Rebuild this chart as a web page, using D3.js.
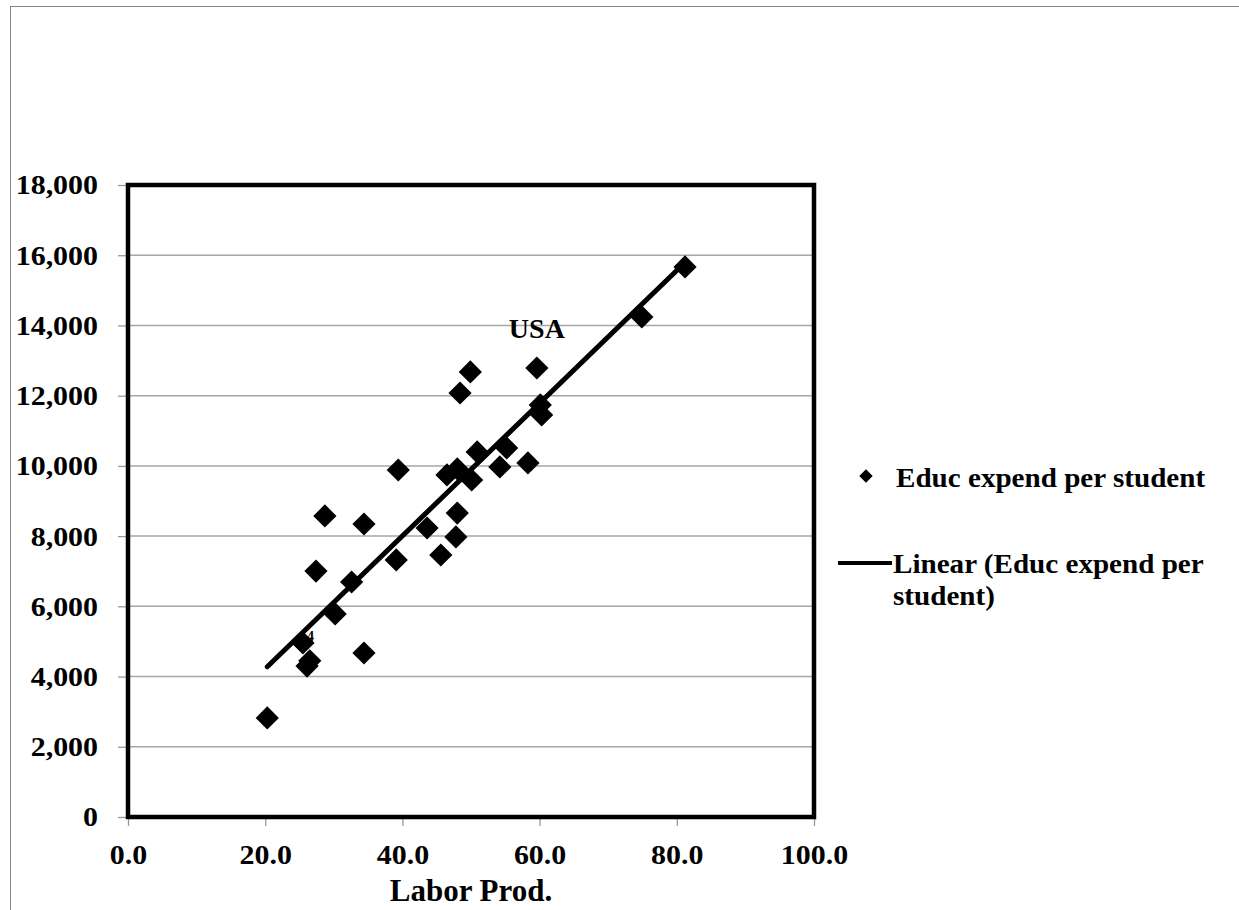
<!DOCTYPE html>
<html>
<head>
<meta charset="utf-8">
<script src="https://cdnjs.cloudflare.com/ajax/libs/d3/7.8.5/d3.min.js"></script>
<style>
  body { margin: 0; background: #fff; }
  text { font-family: "Liberation Serif", "Times New Roman", serif; font-weight: bold; fill: #000; }
</style>
</head>
<body>
<div id="container"></div>
<script>
// Labor productivity vs education spending per student
const laborProd = [20.3, 25.5, 26.1, 26.5, 34.4, 30.2, 32.6, 27.4, 28.7, 34.4,
                   39.4, 39.1, 43.6, 46.5, 48.0, 50.1, 50.9, 55.2, 54.2, 58.3,
                   48.0, 47.8, 45.6, 60.3, 60.1, 49.9, 48.4, 59.6, 81.2, 74.9];
const educExpend = [2820, 4956, 4300, 4450, 4671, 5782, 6693, 7006, 8573, 8345,
                    9883, 7320, 8231, 9741, 9912, 9598, 10396, 10510, 9969, 10083,
                    8658, 7975, 7462, 11450, 11735, 12675, 12076, 12788, 15665, 14241];
const xTicks = [0, 20, 40, 60, 80, 100];
const yTicks = [0, 2000, 4000, 6000, 8000, 10000, 12000, 14000, 16000, 18000];
const seriesName = "Educ expend per student";
const trendName = ["Linear (Educ expend per", "student)"];
const usaPoint = [59.6, 12788];
const strayLabel = [25.5, 4956, "4"];

const w = 1239, h = 910;
const padL = 128, padR = 814, padT = 185, padB = 817;

const svg = d3.select("#container").append("svg")
  .attr("width", w).attr("height", h);

// chart area border
svg.append("rect")
  .attr("x", 10.5).attr("y", 6.5).attr("width", 1240).attr("height", 920)
  .attr("fill", "none").attr("stroke", "#888").attr("stroke-width", 1);

const x = d3.scaleLinear().domain([0, 100]).range([padL, padR]);
const y = d3.scaleLinear().domain([0, 18000]).range([padB, padT]);

// gridlines
svg.append("g").selectAll("line").data(yTicks.filter(t => t > 0 && t < 18000)).enter().append("line")
  .attr("x1", padL).attr("x2", padR)
  .attr("y1", d => y(d)).attr("y2", d => y(d))
  .attr("stroke", "#a6a6a6").attr("stroke-width", 1.5);

const yAxis = d3.axisLeft(y).tickValues(yTicks).tickSize(10).tickPadding(18)
  .tickFormat(d3.format(","));
const xAxis = d3.axisBottom(x).tickValues(xTicks).tickSize(9).tickPadding(18)
  .tickFormat(d3.format(".1f"));

const yg = svg.append("g").attr("transform", "translate(" + padL + ",0)").call(yAxis);
const xg = svg.append("g").attr("transform", "translate(0," + padB + ")").call(xAxis);
[yg, xg].forEach(g => {
  g.select(".domain").remove();
  g.selectAll(".tick line").attr("stroke", "#999").attr("stroke-width", 1.3);
  g.selectAll(".tick text")
    .attr("font-family", "Liberation Serif, Times New Roman, serif")
    .attr("font-weight", "bold")
    .attr("font-size", 28)
    .attr("fill", "#000")
    .attr("transform", "scale(1.07,1)");
});

// plot frame
svg.append("rect")
  .attr("x", padL).attr("y", padT).attr("width", padR - padL).attr("height", padB - padT)
  .attr("fill", "none").attr("stroke", "#000").attr("stroke-width", 4.5);

// axis title
svg.append("text")
  .attr("x", (padL + padR) / 2).attr("y", 901)
  .attr("text-anchor", "middle").attr("font-size", 31)
  .text("Labor Prod.");

// linear trend (least squares)
const n = laborProd.length;
const mx = d3.mean(laborProd), my = d3.mean(educExpend);
let sxy = 0, sxx = 0;
for (let i = 0; i < n; i++) {
  sxy += (laborProd[i] - mx) * (educExpend[i] - my);
  sxx += (laborProd[i] - mx) * (laborProd[i] - mx);
}
const slope = sxy / sxx, icpt = my - slope * mx;
const [xmin, xmax] = d3.extent(laborProd);

const pts = laborProd.map((d, i) => ({ x: d, y: educExpend[i] }));
const diamond = d3.symbol().type(d3.symbolSquare).size(270);

svg.append("g").selectAll("path").data(pts).enter().append("path")
  .attr("d", diamond)
  .attr("transform", d => "translate(" + x(d.x) + "," + y(d.y) + ") rotate(45)")
  .attr("fill", "#000");

svg.append("line")
  .attr("x1", x(xmin)).attr("y1", y(icpt + slope * xmin))
  .attr("x2", x(xmax)).attr("y2", y(icpt + slope * xmax))
  .attr("stroke", "#000").attr("stroke-width", 5).attr("stroke-linecap", "round");

// labels
svg.append("text")
  .attr("x", x(usaPoint[0])).attr("y", y(usaPoint[1]) - 30)
  .attr("text-anchor", "middle").attr("font-size", 28)
  .text("USA");
svg.append("text")
  .attr("x", x(strayLabel[0]) + 4).attr("y", y(strayLabel[1]) - 2)
  .attr("font-size", 14).attr("font-weight", "normal").attr("fill", "#555")
  .text(strayLabel[2]);

// legend
const lg = svg.append("g");
lg.append("path")
  .attr("d", d3.symbol().type(d3.symbolSquare).size(90))
  .attr("transform", "translate(866,476) rotate(45)")
  .attr("fill", "#000");
lg.append("text").attr("x", 896).attr("y", 487).attr("font-size", 28)
  .attr("transform", "translate(896,0) scale(1.04,1) translate(-896,0)")
  .text(seriesName);
lg.append("line").attr("x1", 838).attr("x2", 892).attr("y1", 563).attr("y2", 563)
  .attr("stroke", "#000").attr("stroke-width", 4);
lg.selectAll("text.trend").data(trendName).enter().append("text")
  .attr("class", "trend")
  .attr("x", 893).attr("y", (d, i) => 573 + i * 32).attr("font-size", 28)
  .attr("transform", "translate(893,0) scale(1.04,1) translate(-893,0)")
  .text(d => d);
</script>
</body>
</html>
